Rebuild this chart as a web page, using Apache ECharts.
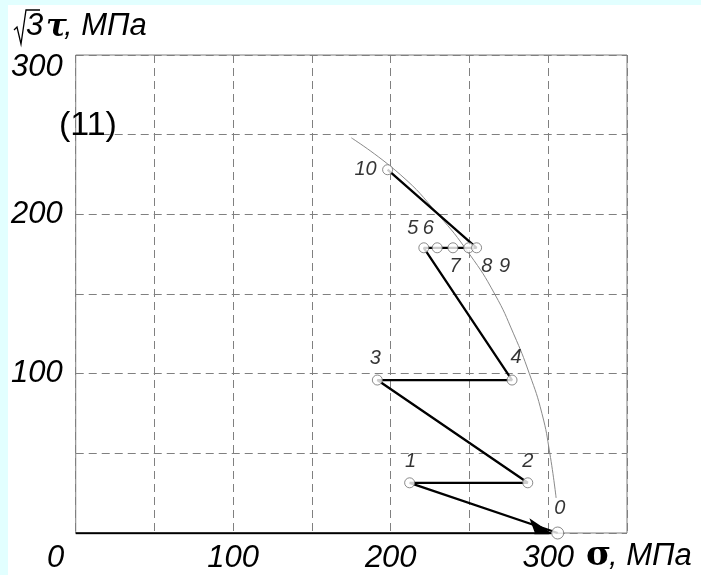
<!DOCTYPE html>
<html>
<head>
<meta charset="utf-8">
<script src="https://cdn.jsdelivr.net/npm/echarts@6/dist/echarts.min.js"></script>
<style>
html,body{margin:0;padding:0;background:#e2ffff;width:701px;height:575px;overflow:hidden;}
#c{position:absolute;left:8px;top:5px;width:693px;height:570px;background:#fff;}
</style>
</head>
<body>
<div id="c"></div>
<script>
// ---- data ----
const pointNames = ['0','1','2','3','4','5','6','7','8','9','10'];
const sigmaVals  = [306, 212, 287, 191.5, 277, 221, 229.5, 239.5, 249.5, 254.5, 198];
const tauVals    = [0, 31.5, 31.5, 96, 96, 179, 179, 179, 179, 179, 228];
// yield curve (thin line)
const curveSigma = [175, 206, 230, 250, 266, 278, 288, 296, 301, 305];
const curveTau   = [248, 225, 200, 175, 150, 125, 100, 75, 50, 22];
// loading arrow along sigma axis
const arrowFrom = [0, 0];
const arrowTo   = [302, 0];
// tick labels
const xTickLabels = [0, 100, 200, 300];
const yTickLabels = [100, 200, 300];
const panelTag = '(11)';

const FONT = '"Liberation Sans Narrow","Liberation Sans",sans-serif';
const TF = 31;

const labelOffsets = {
  '0':[2,-25],'1':[1,-21],'2':[0,-21],'3':[-2,-22],'4':[4,-23],
  '5':[-11,-19],'6':[-9,-19],'7':[2,19],'8':[18,19],'9':[28,19],'10':[-22,0]
};

const pathData = sigmaVals.map((s,i)=>[s,tauVals[i]]);
const curveData = curveSigma.map((s,i)=>[s,curveTau[i]]);
const pointData = pointNames.map((n,i)=>({
  name:n, value:[sigmaVals[i],tauVals[i]],
  symbolSize: n==='0'?12:10,
  label:{show:true, position:'inside', offset:labelOffsets[n], formatter:n}
}));

const chart = echarts.init(document.getElementById('c'), null, {renderer:'canvas'});
chart.setOption({
  animation:false,
  backgroundColor:'#ffffff',
  grid:{left:67, top:50, width:552, height:478, show:true, borderColor:'#7f7f7f', borderWidth:1, backgroundColor:'transparent'},
  xAxis:{
    type:'value', min:0, max:350, interval:50,
    axisLine:{show:false}, axisTick:{show:false},
    splitLine:{show:true, lineStyle:{color:'#808080', width:1, type:[8,5]}},
    axisLabel:{
      margin:10, color:'#000', fontSize:TF, fontStyle:'italic', fontFamily:FONT,
      formatter:v=> xTickLabels.indexOf(v)<0 ? '' : (v===0 ? '{z|0}' : String(v)),
      rich:{z:{fontSize:TF, fontStyle:'italic', fontFamily:FONT, color:'#000', padding:[0,40,0,0]}}
    }
  },
  yAxis:{
    type:'value', min:0, max:300, interval:50,
    axisLine:{show:false}, axisTick:{show:false},
    splitLine:{show:true, lineStyle:{color:'#808080', width:1, type:[8,5]}},
    axisLabel:{
      margin:13, color:'#000', fontSize:TF, fontStyle:'italic', fontFamily:FONT,
      formatter:v=> yTickLabels.indexOf(v)<0 ? '' : (v===300 ? '{t|300}' : String(v)),
      rich:{t:{fontSize:TF, fontStyle:'italic', fontFamily:FONT, color:'#000', padding:[24,0,0,0]}}
    }
  },
  series:[
    {type:'line', data:curveData, smooth:true, showSymbol:false, symbol:'none',
     lineStyle:{color:'#8a8a8a', width:1}, z:2, silent:true},
    {type:'lines', coordinateSystem:'cartesian2d', z:3, silent:true,
     symbol:['none','arrow'], symbolSize:[12,22],
     lineStyle:{color:'#000', width:2.5, opacity:1},
     data:[{coords:[arrowFrom, arrowTo]}]},
    {type:'line', data:pathData, showSymbol:false, symbol:'none',
     lineStyle:{color:'#000', width:2.3}, z:4, silent:true},
    {type:'scatter', data:pointData, symbol:'circle', z:5, silent:true,
     itemStyle:{color:'#fff', borderColor:'#6e6e6e', borderWidth:1},
     label:{color:'#000', fontSize:20, fontStyle:'italic', fontFamily:FONT, align:'center', verticalAlign:'middle'}}
  ],
  graphic:[
    {type:'text', left:51, top:104, z:10, style:{text:panelTag, font:'34px "Liberation Sans", Arial, sans-serif', fill:'#000'}},
    // y axis title: sqrt(3) tau, MPa
    {type:'polyline', shape:{points:[[6,25],[9,22],[13,39],[18,5],[32,5]]}, style:{stroke:'#000', lineWidth:1.3, fill:null}},
    {type:'text', left:18, top:6, style:{text:'3', font:'italic 31px '+FONT, fill:'#000'}},
    {type:'text', left:38, top:7, style:{text:'τ', font:'bold italic 31px "DejaVu Serif", serif', fill:'#000'}},
    {type:'text', left:56, top:6, style:{text:', МПа', font:'italic 31px '+FONT, fill:'#000'}},
    // x axis title: sigma, MPa
    {type:'text', left:578, top:534, style:{text:'σ', font:'bold 34px "DejaVu Serif", serif', fill:'#000'}},
    {type:'text', left:601, top:536, style:{text:', МПа', font:'italic 31px '+FONT, fill:'#000'}}
  ]
});
</script>
</body>
</html>
